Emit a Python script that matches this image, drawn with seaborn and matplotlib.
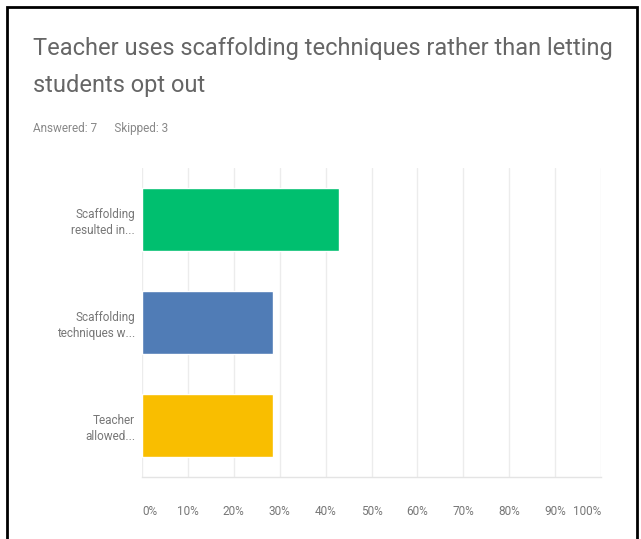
import matplotlib
matplotlib.use("Agg")
import matplotlib.pyplot as plt
import seaborn as sns
import pandas as pd
from matplotlib.patches import Rectangle

categories = ["Scaffolding\nresulted in...", "Scaffolding\ntechniques w...", "Teacher\nallowed..."]
values = [42.86, 28.57, 28.57]
colors = ["#00BF6F", "#507CB6", "#F9BE00"]
xticks = [0, 10, 20, 30, 40, 50, 60, 70, 80, 90, 100]
xticklabels = [f"{t}%" for t in xticks]

sns.set_style("white")
plt.rcParams['font.family'] = ['Roboto', 'DejaVu Sans']

df = pd.DataFrame({"answer": categories, "pct": values})

fig = plt.figure(figsize=(6.41, 5.39), dpi=100)
ax = fig.add_axes([142/641, 1-477/539, (601-142)/641, (477-168)/539])

sns.barplot(data=df, y="answer", x="pct", hue="answer", palette=colors,
            orient="h", width=0.62, legend=False, ax=ax, zorder=3, saturation=1)

ax.set_xlim(0, 100)
ax.set_ylim(2.5, -0.5)
ax.set_xticks(xticks)
ax.set_xticklabels(xticklabels, fontsize=8.5, color="#777777")
xl = ax.get_xticklabels()
xl[0].set_horizontalalignment("left")
xl[-1].set_horizontalalignment("right")
ax.tick_params(axis="x", length=0, pad=20)
ax.tick_params(axis="y", length=0, pad=5)
for lab in ax.get_yticklabels():
    lab.set_fontsize(8.5)
    lab.set_color("#777777")
    lab.set_horizontalalignment("right")
    lab.set_multialignment("right")
    lab.set_linespacing(1.35)
ax.set_xlabel("")
ax.set_ylabel("")
ax.grid(axis="x", color="#ececec", linewidth=1, zorder=0)
for s in ["top", "left", "right"]:
    ax.spines[s].set_visible(False)
ax.spines["bottom"].set_color("#e4e4e4")
ax.spines["bottom"].set_linewidth(1)

fig.text(33/641, 1-92/539, "Teacher uses scaffolding techniques rather than letting\nstudents opt out",
         fontsize=17, color="#666666", ha="left", va="baseline", linespacing=1.75)
fig.text(33/641, 1-132/539, "Answered: 7      Skipped: 3", fontsize=8.5, color="#888888",
         ha="left", va="baseline")

fig.patches.append(Rectangle((7/641, -0.05), (637-7)/641, 1.05-7/539,
                             transform=fig.transFigure, fill=False,
                             edgecolor="black", linewidth=2))

fig.savefig("out.png", dpi=100)
